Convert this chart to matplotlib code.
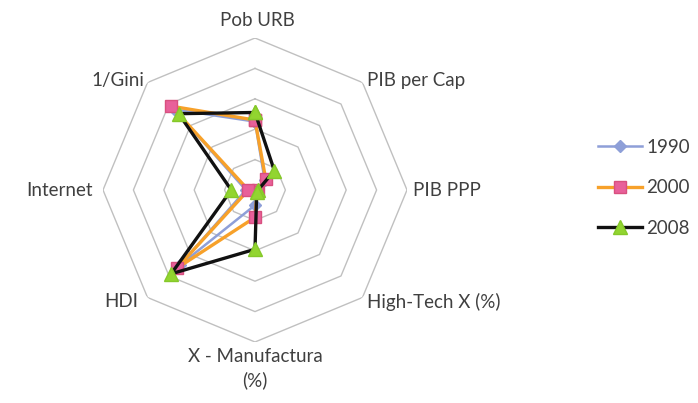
import numpy as np
import matplotlib
matplotlib.use("Agg")
import matplotlib.pyplot as plt
from matplotlib.lines import Line2D

# Indicator axes, clockwise from the top
categories = ["Pob URB", "PIB per Cap", "PIB PPP", "High-Tech X (%)",
              "X - Manufactura\n(%)", "HDI", "Internet", "1/Gini"]

years = ["1990", "2000", "2008"]
values_1990 = [2.25, 0.45, 0.05, 0.05, 0.50, 3.50, 0.30, 3.75]
values_2000 = [2.30, 0.50, 0.10, 0.10, 0.90, 3.65, 0.22, 3.90]
values_2008 = [2.55, 0.90, 0.10, 0.08, 1.95, 3.90, 0.78, 3.55]

grid_levels = [1, 2, 3, 4, 5]

plt.rcParams["font.family"] = ["Lato", "DejaVu Sans"]

W, H = 698, 403
fig = plt.figure(figsize=(W / 100, H / 100), dpi=100)

cx, cy, R = 255, 190, 152
ax = fig.add_axes([(cx - R) / W, (H - cy - R) / H, 2 * R / W, 2 * R / H],
                  projection="polar")
ax.set_theta_offset(np.pi / 2)
ax.set_theta_direction(-1)
ax.set_ylim(0, 5)
ax.grid(False)
ax.spines["polar"].set_visible(False)
ax.set_xticks([])
ax.set_yticks([])
ax.patch.set_alpha(0)

n = len(categories)
theta = np.arange(n) * 2 * np.pi / n
closed = np.append(theta, theta[0])

# Octagonal grid rings
for lvl in grid_levels:
    ax.plot(closed, [lvl] * (n + 1), color="#c0c0c0", lw=1.0, zorder=1)

styles = [
    dict(color="#8e9fd8", lw=1.8, marker="D", ms=6, mfc="#8e9fd8", mec="#8e9fd8"),
    dict(color="#f7a12a", lw=2.4, marker="s", ms=9, mfc="#e8609a", mec="#d8507f"),
    dict(color="#111111", lw=2.4, marker="^", ms=10, mfc="#92d530", mec="#85c82a"),
]
series = [values_1990, values_2000, values_2008]
handles = []
for i, (yr, vals, st) in enumerate(zip(years, series, styles)):
    v = list(vals) + [vals[0]]
    ax.plot(closed, v, zorder=3 + i, clip_on=False, **st)
    handles.append(Line2D([], [], label=yr, **st))

FS = 13.5
# Category labels placed just outside the outer ring
offsets = [
    (2, 17, "center", "center"),
    (5, 2, "left", "center"),
    (6, 0, "left", "center"),
    (5, -4, "left", "center"),
    (0, -6, "center", "top"),
    (-9, -4, "right", "center"),
    (-10, 0, "right", "center"),
    (-3, 2, "right", "center"),
]
for t, lab, (dx, dy, ha, va) in zip(theta, categories, offsets):
    ax.annotate(lab, xy=(t, 5), xytext=(dx, dy), textcoords="offset pixels",
                ha=ha, va=va, fontsize=FS, color="#404040",
                linespacing=1.4, annotation_clip=False)

fig.legend(handles=handles, loc="center left",
           bbox_to_anchor=(589 / W, 1 - 188 / H), frameon=False,
           fontsize=FS, labelcolor="#404040", handlelength=2.3,
           handletextpad=0.25, labelspacing=1.25, borderpad=0)

fig.savefig("out.png", dpi=100)
